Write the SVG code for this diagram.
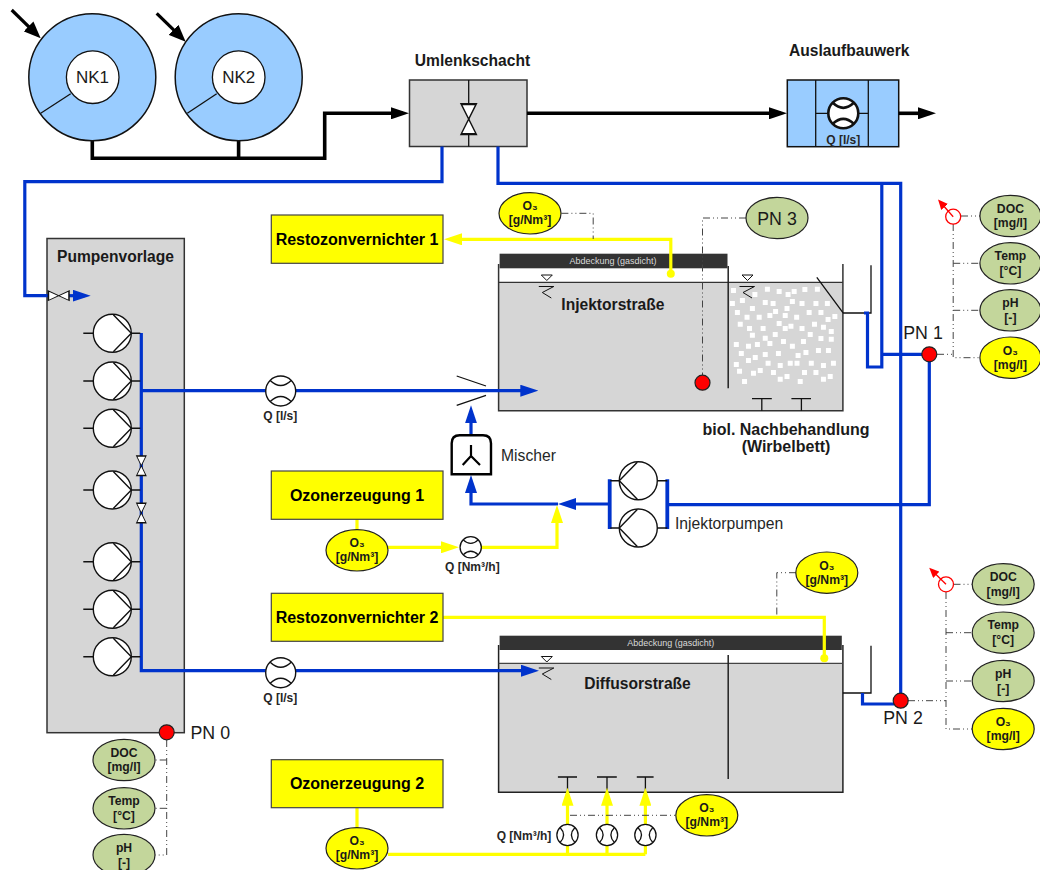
<svg xmlns="http://www.w3.org/2000/svg" width="1040" height="870" viewBox="0 0 1040 870">
<style>
text{font-family:"Liberation Sans",Arial,sans-serif;fill:#1a1a1a;text-anchor:middle}
.t{font-size:15.6px;font-weight:bold}
.y{font-size:16px;font-weight:bold;fill:#000}
.e{font-size:12.2px;font-weight:bold}
.q{font-size:12px;font-weight:bold;fill:#262626}
.l{font-size:15.7px;text-anchor:start;fill:#262626}
.pn{font-size:17.8px}
.nk{font-size:17px}
.cov{font-size:9px;fill:#d9d9d9}
.box{fill:#d6d6d6;stroke:#333;stroke-width:1.5}
.sky{fill:#99ccff;stroke:#111;stroke-width:1.5}
.ybox{fill:#ff0;stroke:#444;stroke-width:1.2}
.ye{fill:#ff0;stroke:#222;stroke-width:1.2}
.gr{fill:#c3d69b;stroke:#222;stroke-width:1.2}
.ln{fill:none;stroke:#111;stroke-width:1.3}
.dot{fill:#f00;stroke:#222;stroke-width:1.2}
.blue{fill:none;stroke:#0033cc;stroke-width:3.2;stroke-linejoin:miter}
.blk{fill:none;stroke:#000;stroke-width:3.6}
.yel{fill:none;stroke:#ff0;stroke-width:3.2}
.dd{fill:none;stroke:#444;stroke-width:1;stroke-dasharray:7 3 1 3 1 3}
.red{fill:none;stroke:#f00;stroke-width:1.3}
</style>
<defs>
<marker id="ab" markerUnits="userSpaceOnUse" markerWidth="18" markerHeight="12" refX="12" refY="6" orient="auto"><path d="M0 0L18 6L0 12Z" fill="#000"/></marker>
<marker id="abk" markerUnits="userSpaceOnUse" markerWidth="17" markerHeight="15" refX="12" refY="7.500" orient="auto"><path d="M0 0.500L17 7.500L0 14.500Z" fill="#000"/></marker>
<marker id="au" markerUnits="userSpaceOnUse" markerWidth="18" markerHeight="12" refX="12" refY="6" orient="auto"><path d="M0 0L18 6L0 12Z" fill="#0033cc"/></marker>
<marker id="ay" markerUnits="userSpaceOnUse" markerWidth="18" markerHeight="12" refX="12" refY="6" orient="auto"><path d="M0 0L18 6L0 12Z" fill="#ff0"/></marker>
<marker id="ar" markerUnits="userSpaceOnUse" markerWidth="10" markerHeight="9" refX="4" refY="4.5" orient="auto"><path d="M0 0L10 4.5L0 9Z" fill="#f00"/></marker>
<g id="pump"><circle r="19" fill="#fff" stroke="#111" stroke-width="1.4"/><path d="M1 -18.500L19 0L1 18.500M-29 0H-19M19 0H28" fill="none" stroke="#111" stroke-width="1.4"/></g>
<g id="meter"><circle r="15" fill="#fff" stroke="#111"/><path d="M-10.500 -10.500Q0 -0.500 10.500 -10.500M-10.500 10.500Q0 0.500 10.500 10.500" fill="none" stroke="#111"/></g>
<path id="bow" d="M-1 -1L1 -1L-1 1L1 1Z" fill="#fff" stroke="#111"/>
<g id="surf"><path d="M-5.500 -11.500H5.500L0 -6Z" fill="#fff" stroke="#111" stroke-width="1"/><path d="M-8 0H7L-4.500 6L4.500 11.500" fill="none" stroke="#111" stroke-width="1"/></g>
</defs>

<g id="pumpenvorlage-bg"><rect class="box" x="47" y="238.500" width="137.300" height="494.200"/><text class="t" x="115.500" y="261.500">Pumpenvorlage</text></g>
<g id="umlenkschacht-bg"><text class="t" x="472.500" y="66">Umlenkschacht</text><rect class="box" x="409.500" y="80" width="117.500" height="66.500"/><path class="ln" d="M468.700 80V146.500"/></g>
<g id="auslauf-bg"><text class="t" x="849.300" y="56">Auslaufbauwerk</text><rect class="sky" x="787.300" y="80" width="111.400" height="66.700"/><path class="ln" d="M815.700 80V146.700M868.300 80V146.700M815.700 113.300H868.300"/></g>

<g id="tank1">
<rect x="499" y="268" width="344" height="14" fill="#fff"/>
<rect x="498.600" y="282.300" width="344.300" height="128.400" fill="#d6d6d6"/>
<path d="M498.600 264V410.700H842.900V264" fill="none" stroke="#333" stroke-width="1.500"/>
<path d="M498.600 282.300H842.900" stroke="#333" stroke-width="1.200" fill="none"/>
<path d="M728.200 266V388.300" stroke="#222" stroke-width="1.500" fill="none"/>
<rect x="499.600" y="253.700" width="227.900" height="14.600" fill="#333"/>
<text class="cov" x="613" y="264">Abdeckung (gasdicht)</text>
<path fill="#fff" transform="translate(480 180) scale(.357 .3333)" d="M703 324h14v15h-14zM763 336h14v15h-14zM798 320h14v15h-14zM831 327h14v15h-14zM856 336h14v15h-14zM873 327h14v15h-14zM903 321h14v15h-14zM938 320h14v15h-14zM700 363h14v15h-14zM728 354h14v15h-14zM756 378h14v15h-14zM792 360h14v15h-14zM814 363h14v15h-14zM853 378h14v15h-14zM868 357h14v15h-14zM895 363h14v15h-14zM934 363h14v15h-14zM966 363h14v15h-14zM714 390h14v15h-14zM741 404h14v15h-14zM775 404h14v15h-14zM805 399h14v15h-14zM821 387h14v15h-14zM848 399h14v15h-14zM880 404h14v15h-14zM915 390h14v15h-14zM948 390h14v15h-14zM968 411h14v15h-14zM987 402h14v15h-14zM722 425h14v15h-14zM748 438h14v15h-14zM786 438h14v15h-14zM831 423h14v15h-14zM848 438h14v15h-14zM864 431h14v15h-14zM895 438h14v15h-14zM930 425h14v15h-14zM955 434h14v15h-14zM977 447h14v15h-14zM756 458h14v15h-14zM792 467h14v15h-14zM820 456h14v15h-14zM918 456h14v15h-14zM948 468h14v15h-14zM977 470h14v15h-14zM711 486h14v15h-14zM745 491h14v15h-14zM770 486h14v15h-14zM805 483h14v15h-14zM843 477h14v15h-14zM868 491h14v15h-14zM899 477h14v15h-14zM725 513h14v15h-14zM745 534h14v15h-14zM764 525h14v15h-14zM792 516h14v15h-14zM829 513h14v15h-14zM884 519h14v15h-14zM906 510h14v15h-14zM941 504h14v15h-14zM969 504h14v15h-14zM711 546h14v15h-14zM800 542h14v15h-14zM834 549h14v15h-14zM862 542h14v15h-14zM881 542h14v15h-14zM921 542h14v15h-14zM955 549h14v15h-14zM983 542h14v15h-14zM720 566h14v15h-14zM759 572h14v15h-14zM778 564h14v15h-14zM815 570h14v15h-14zM853 582h14v15h-14zM902 570h14v15h-14zM934 570h14v15h-14zM974 582h14v15h-14zM955 590h14v15h-14zM734 597h14v15h-14zM834 590h14v15h-14zM890 597h14v15h-14z"/>
<use href="#surf" x="546.800" y="286.500"/>
<use href="#surf" x="747.500" y="286.500"/>
<text class="t" x="612.900" y="310">Injektorstraße</text>
<path class="ln" d="M816.800 277.300L842.900 312.700M842.900 313H871V265.300M752 398.700H771.800M761.800 398.700V410.700M791.400 398.700H811M801.400 398.700V410.700"/>
<text class="t" style="font-size:16px" x="786" y="435">biol. Nachbehandlung</text>
<text class="t" style="font-size:16px" x="786" y="452">(Wirbelbett)</text>
</g>

<g id="tank2">
<rect x="499" y="650" width="344" height="13" fill="#fff"/>
<rect x="498.600" y="663.300" width="344.300" height="129" fill="#d6d6d6"/>
<path d="M498.600 645V792.300H842.900V645" fill="none" stroke="#222" stroke-width="1.500"/>
<path d="M498.600 663.300H842.900" stroke="#444" stroke-width="1.200" fill="none"/>
<path d="M728.200 655V779" stroke="#222" stroke-width="1.500" fill="none"/>
<rect x="499.600" y="635.700" width="342.200" height="14.300" fill="#333"/>
<text class="cov" x="670.700" y="646">Abdeckung (gasdicht)</text>
<use href="#surf" x="546.800" y="668"/>
<text class="t" x="637.500" y="689">Diffusorstraße</text>
<path class="ln" d="M842.900 693H871V645.700M557.900 777H577M567.500 777V792.300M597 777H616.800M607 777V792.300M636.800 777H653.600M645.400 777V792.300"/>
</g>

<g id="connectors">
<path class="blk" d="M92.300 140.500V158.300H324.700V113.300H403" marker-end="url(#ab)"/>
<path class="blk" d="M238.600 140.500V158.300"/>
<path class="blk" d="M527 113.300H781" marker-end="url(#ab)"/>
<path class="blk" d="M898.700 113.300H930" marker-end="url(#ab)"/>
<path class="blk" style="stroke-width:3.200" d="M11.700 10L37.100 34.800" marker-end="url(#abk)"/>
<path class="blk" style="stroke-width:3.200" d="M156.700 13.300L182.100 38.200" marker-end="url(#abk)"/>
<path class="blue" d="M442 146.500V181.700H24.800V295.700H50"/>
<path class="blue" d="M69 295.700H84.700" marker-end="url(#au)"/>
<path class="blue" d="M498 146.500V183.300H900.700V694"/>
<path class="blue" d="M881.800 183.300V367H867.500V313H864"/>
<path class="blue" d="M881.800 354.300H929.300V504.700H667.300"/>
<path class="blue" d="M141.300 333V670.700H533" marker-end="url(#au)"/>
<path class="blue" d="M141.300 390.700H532.300" marker-end="url(#au)"/>
<path class="blue" d="M862.500 693V704H894"/>
<path class="blue" d="M609.500 504H564" marker-end="url(#au)"/>
<path class="blue" d="M558 504H471V481" marker-end="url(#au)"/>
<path class="blue" d="M471 435V411.300" marker-end="url(#au)"/>
<path class="blue" style="stroke-width:3.800" d="M609.700 479.300V529M667.300 479.300V529"/>
<path class="yel" d="M670.800 270V239.300H450" marker-end="url(#ay)"/>
<path class="yel" d="M357 519V530M388 547.300H453" marker-end="url(#ay)"/>
<path class="yel" d="M481 547.300H557V511" marker-end="url(#ay)"/>
<path class="yel" d="M443 617.300H824.300V655"/>
<path class="yel" d="M357 807.700V828M388 854.300H645.400M567.500 854.300V793.700" marker-end="url(#ay)"/>
<path class="yel" d="M607 854.300V793.700" marker-end="url(#ay)"/>
<path class="yel" d="M645.400 854.300V793.700" marker-end="url(#ay)"/>
<circle cx="670.800" cy="273.700" r="4" fill="#ff0"/>
<circle cx="824.300" cy="658.300" r="4" fill="#ff0"/>
<path class="dd" d="M561.400 213.300H593.200V239"/>
<path class="dd" d="M746 218H702.500V375"/>
<path class="dd" d="M937 354.300H953.200M961 216H980M953.200 224V357.700H980M953.200 263.300H980M953.200 310.300H980"/>
<path class="dd" d="M796 572.700H776.800V616.700"/>
<path class="dd" d="M908 700.700H946M953.500 584.300H972M946 592V729H972M946 632.700H972M946 681H972"/>
<path class="dd" d="M570 815.300H675.700"/>
<path class="dd" d="M166.700 740V855H155.300M166.700 808.300H155.300M166.700 760H155.300"/>
</g>

<g id="NK1"><circle class="sky" cx="92.300" cy="77.200" r="63.500"/><circle cx="92.700" cy="77.200" r="26.300" fill="#fff" stroke="#111" stroke-width="1.300"/><path class="ln" d="M40.700 113.300L70.700 93.700"/><text class="nk" x="92.500" y="83.300">NK1</text></g>
<g id="NK2"><circle class="sky" cx="238.700" cy="77.200" r="63.500"/><circle cx="238.700" cy="77.200" r="26.300" fill="#fff" stroke="#111" stroke-width="1.300"/><path class="ln" d="M187.300 113.300L216.700 93.700"/><text class="nk" x="238.700" y="83.300">NK2</text></g>

<g id="valve-umlenk"><use href="#bow" transform="translate(468.700 119) scale(7.500 15)" stroke-width=".15"/></g>
<g id="meter-auslauf"><use href="#meter" x="843.300" y="113.300" stroke-width="2.600"/><text class="q" x="843.300" y="143.500">Q [l/s]</text></g>

<g id="valve-inlet"><use href="#bow" transform="translate(58.700 295.700) rotate(90) scale(4.800 10.300)" stroke-width=".15"/></g>
<g id="pumps">
<use href="#pump" x="112.300" y="333.300"/><use href="#pump" x="112.300" y="381"/><use href="#pump" x="112.300" y="428.300"/><use href="#pump" x="112.300" y="490"/><use href="#pump" x="112.300" y="561.700"/><use href="#pump" x="112.300" y="609.300"/><use href="#pump" x="112.300" y="656.700"/>
</g>
<g id="valves"><use href="#bow" transform="translate(141.300 465.700) scale(4.700 9.700)" stroke-width=".15"/><use href="#bow" transform="translate(141.300 513) scale(4.700 9.700)" stroke-width=".15"/></g>

<g id="meter-1"><use href="#meter" x="280.700" y="391" stroke-width="1.400"/><text class="q" x="280.300" y="419.500">Q [l/s]</text></g>
<g id="meter-2"><use href="#meter" x="280.700" y="672.700" stroke-width="1.400"/><text class="q" x="280.300" y="701.500">Q [l/s]</text></g>
<g id="meter-o1"><use href="#meter" transform="translate(470.700 547.300) scale(.71)" stroke-width="1.800"/><text class="q" x="472.300" y="571">Q [Nm³/h]</text></g>
<g id="meter-o2"><use href="#meter" transform="translate(567.500 835) scale(.71) rotate(90)" stroke-width="1.800"/><use href="#meter" transform="translate(607 835) scale(.71) rotate(90)" stroke-width="1.800"/><use href="#meter" transform="translate(645.400 835) scale(.71) rotate(90)" stroke-width="1.800"/><text class="q" x="524" y="839.500">Q [Nm³/h]</text></g>

<g id="mischer"><path d="M451.700 474.300V443.300Q451.700 435.300 459.700 435.300H483Q491 435.300 491 443.300V474.300Z" fill="#fff" stroke="#000" stroke-width="2.400"/><path d="M471 445V456M471 456L462.700 465M471 456L480 465" fill="none" stroke="#000" stroke-width="2.200"/><text class="l" x="501" y="461">Mischer</text></g>
<g id="flaps"><path class="ln" d="M456.700 376L486 386M456.700 405.300L486 395.300"/></g>
<g id="injektorpumpen"><use href="#pump" transform="translate(638.300 480.700) scale(-1 1)"/><use href="#pump" transform="translate(638.300 528) scale(-1 1)"/><text class="l" x="675" y="529">Injektorpumpen</text></g>

<g id="restoz1"><rect class="ybox" x="271.300" y="215" width="171.700" height="48.300"/><text class="y" x="357" y="244.500">Restozonvernichter 1</text></g>
<g id="ozon1"><rect class="ybox" x="271.300" y="471" width="171.700" height="48.300"/><text class="y" x="357" y="500.500">Ozonerzeugung 1</text></g>
<g id="restoz2"><rect class="ybox" x="271.300" y="593.300" width="171.700" height="48"/><text class="y" x="357" y="622.500">Restozonvernichter 2</text></g>
<g id="ozon2"><rect class="ybox" x="271.300" y="759.700" width="171.700" height="48"/><text class="y" x="357" y="789">Ozonerzeugung 2</text></g>

<g id="o3-a"><ellipse class="ye" cx="530" cy="213.300" rx="31" ry="20.700"/><text class="e" x="530" y="210">O₃</text><text class="e" x="530" y="224">[g/Nm³]</text></g>
<g id="o3-b"><ellipse class="ye" cx="357" cy="550.300" rx="31" ry="20.700"/><text class="e" x="357" y="547">O₃</text><text class="e" x="357" y="561">[g/Nm³]</text></g>
<g id="o3-c"><ellipse class="ye" cx="826.800" cy="572.700" rx="31" ry="20.700"/><text class="e" x="826.800" y="570">O₃</text><text class="e" x="826.800" y="584">[g/Nm³]</text></g>
<g id="o3-d"><ellipse class="ye" cx="706.800" cy="815.300" rx="31" ry="20.700"/><text class="e" x="706.800" y="812">O₃</text><text class="e" x="706.800" y="826">[g/Nm³]</text></g>
<g id="o3-e"><ellipse class="ye" cx="357" cy="848.300" rx="31" ry="20.700"/><text class="e" x="357" y="845">O₃</text><text class="e" x="357" y="859">[g/Nm³]</text></g>

<g id="PN3"><ellipse class="gr" cx="777" cy="218" rx="31" ry="20.700"/><text class="pn" x="777" y="224.500">PN 3</text><circle class="dot" cx="702.500" cy="382.700" r="7.500"/></g>
<g id="PN1"><circle class="dot" cx="929.300" cy="354.300" r="7.500"/><text class="pn" x="923" y="339">PN 1</text></g>
<g id="PN2"><circle class="dot" cx="900.700" cy="700.700" r="7.500"/><text class="pn" x="903" y="724">PN 2</text></g>
<g id="PN0"><circle class="dot" cx="166.700" cy="732.300" r="7.500"/><text class="pn" style="text-anchor:start" x="190.500" y="738.500">PN 0</text></g>

<g id="sensor1"><circle class="red" cx="953.200" cy="216.700" r="7.500"/><path class="red" d="M953.200 216.700L942 204" marker-end="url(#ar)"/></g>
<g id="sensor2"><circle class="red" cx="946" cy="584.300" r="7.500"/><path class="red" d="M946 584.300L933.500 572" marker-end="url(#ar)"/></g>

<g id="s1-doc"><ellipse class="gr" cx="1010.400" cy="216" rx="30.500" ry="20.700"/><text class="e" x="1010.400" y="213">DOC</text><text class="e" x="1010.400" y="227">[mg/l]</text></g>
<g id="s1-temp"><ellipse class="gr" cx="1010.400" cy="263.300" rx="30.500" ry="20.700"/><text class="e" x="1010.400" y="260">Temp</text><text class="e" x="1010.400" y="275">[°C]</text></g>
<g id="s1-ph"><ellipse class="gr" cx="1010.400" cy="310.300" rx="30.500" ry="20.700"/><text class="e" x="1010.400" y="307">pH</text><text class="e" x="1010.400" y="322">[-]</text></g>
<g id="s1-o3"><ellipse class="ye" cx="1010.400" cy="357.700" rx="30.500" ry="20.700"/><text class="e" x="1010.400" y="355">O₃</text><text class="e" x="1010.400" y="369">[mg/l]</text></g>
<g id="s2-doc"><ellipse class="gr" cx="1003.200" cy="584.300" rx="31" ry="20.700"/><text class="e" x="1003.200" y="581">DOC</text><text class="e" x="1003.200" y="596">[mg/l]</text></g>
<g id="s2-temp"><ellipse class="gr" cx="1003.200" cy="632.700" rx="31" ry="20.700"/><text class="e" x="1003.200" y="629">Temp</text><text class="e" x="1003.200" y="644">[°C]</text></g>
<g id="s2-ph"><ellipse class="gr" cx="1003.200" cy="681" rx="31" ry="20.700"/><text class="e" x="1003.200" y="677.500">pH</text><text class="e" x="1003.200" y="692.500">[-]</text></g>
<g id="s2-o3"><ellipse class="ye" cx="1003.200" cy="729" rx="31" ry="20.700"/><text class="e" x="1003.200" y="726">O₃</text><text class="e" x="1003.200" y="740">[mg/l]</text></g>
<g id="s0-doc"><ellipse class="gr" cx="124" cy="760" rx="31" ry="20.700"/><text class="e" x="124" y="757">DOC</text><text class="e" x="124" y="771">[mg/l]</text></g>
<g id="s0-temp"><ellipse class="gr" cx="124" cy="808.300" rx="31" ry="20.700"/><text class="e" x="124" y="805">Temp</text><text class="e" x="124" y="820">[°C]</text></g>
<g id="s0-ph"><ellipse class="gr" cx="124" cy="855" rx="31" ry="20.700"/><text class="e" x="124" y="852">pH</text><text class="e" x="124" y="867">[-]</text></g>
</svg>
